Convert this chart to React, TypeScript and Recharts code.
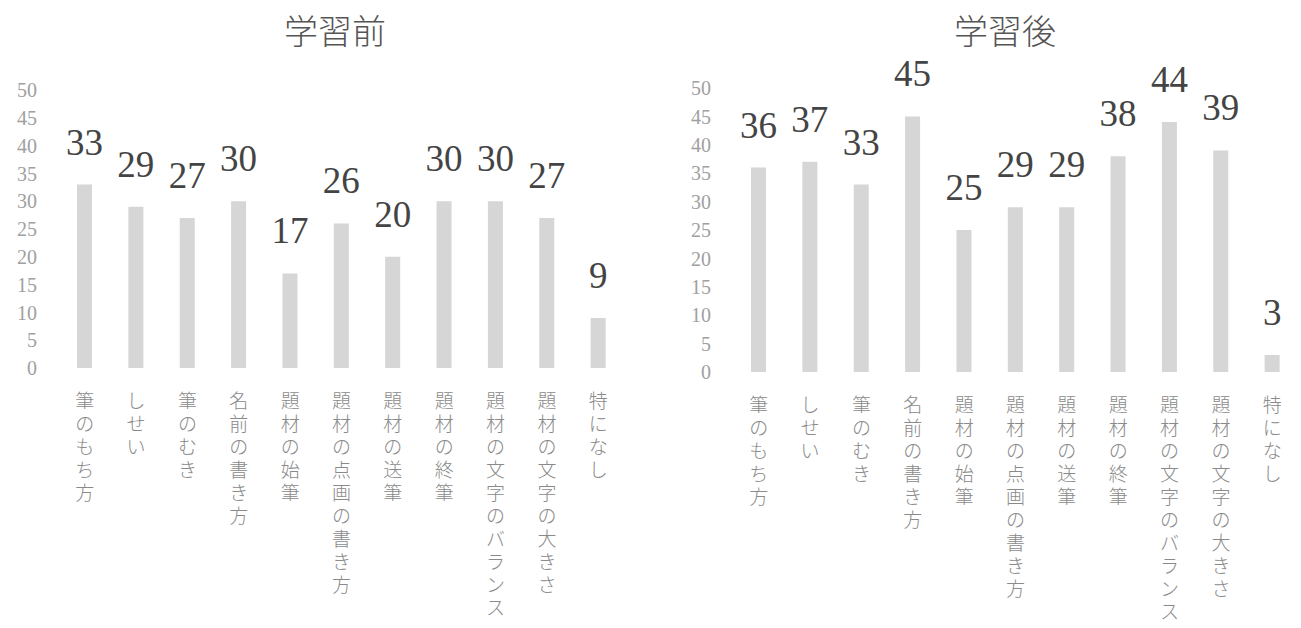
import { BarChart, Bar, XAxis, YAxis, LabelList } from 'recharts';

const categories = [
  '筆のもち方',
  'しせい',
  '筆のむき',
  '名前の書き方',
  '題材の始筆',
  '題材の点画の書き方',
  '題材の送筆',
  '題材の終筆',
  '題材の文字のバランス',
  '題材の文字の大きさ',
  '特になし',
];
const beforeValues = [33, 29, 27, 30, 17, 26, 20, 30, 30, 27, 9];
const afterValues = [36, 37, 33, 45, 25, 29, 29, 38, 44, 39, 3];
const yTicks = [0, 5, 10, 15, 20, 25, 30, 35, 40, 45, 50];
const titles = ['学習前', '学習後'];

const CJK = '"Noto Sans CJK JP", sans-serif';
const SERIF = '"Liberation Serif", "DejaVu Serif", serif';

// category labels are written top-to-bottom, one glyph per line
function VerticalTick(props: any) {
  const { x, y, payload } = props;
  const chars = Array.from(String(payload.value));
  return (
    <g>
      {chars.map((c, i) => (
        <text
          key={i}
          x={x}
          y={y + 40 + i * 23}
          textAnchor="middle"
          fontSize={19}
          fill="#8a8a8a"
          fontFamily={CJK}
          fontWeight={300}
        >
          {c}
        </text>
      ))}
    </g>
  );
}

interface PanelProps {
  title: string;
  values: number[];
  left: number;
  width: number;
  top: number;
  axisHeight: number;
  marginLeft: number;
  marginRight: number;
  titleX: number;
}

function Panel({ title, values, left, width, top, axisHeight, marginLeft, marginRight, titleX }: PanelProps) {
  const data = categories.map((name, i) => ({ name, value: values[i] }));
  return (
    <div style={{ position: 'absolute', left, top: 0, width, height: 628 }}>
      <div
        style={{
          position: 'absolute',
          left: titleX - 100,
          width: 200,
          top: 8,
          textAlign: 'center',
          fontFamily: CJK,
          fontWeight: 300,
          fontSize: 34,
          color: '#555',
          lineHeight: '44px',
        }}
      >
        {title}
      </div>
      <BarChart
        width={width}
        height={628}
        data={data}
        margin={{ top, right: marginRight, bottom: 0, left: marginLeft }}
        barCategoryGap={0}
      >
        <XAxis
          dataKey="name"
          axisLine={false}
          tickLine={false}
          tickSize={0}
          tickMargin={0}
          height={axisHeight}
          interval={0}
          tick={<VerticalTick />}
        />
        <YAxis
          domain={[0, 50]}
          ticks={yTicks}
          width={40}
          axisLine={false}
          tickLine={false}
          tickSize={0}
          tickMargin={22}
          interval={0}
          tick={{ fontSize: 20, fill: '#a0a0a0', fontFamily: SERIF }}
        />
        <Bar dataKey="value" fill="#d6d6d6" barSize={15} isAnimationActive={false}>
          <LabelList
            dataKey="value"
            position="top"
            offset={30}
            style={{ fontSize: 37, fill: '#444', fontFamily: SERIF }}
          />
        </Bar>
      </BarChart>
    </div>
  );
}

export default function App() {
  return (
    <div style={{ position: 'absolute', left: 0, top: 0, width: 1301, height: 628, background: '#fff' }}>
      <Panel
        title={titles[0]}
        values={beforeValues}
        left={0}
        width={650}
        top={90}
        axisHeight={260}
        marginLeft={19}
        marginRight={26}
        titleX={335}
      />
      <Panel
        title={titles[1]}
        values={afterValues}
        left={650}
        width={651}
        top={88}
        axisHeight={256}
        marginLeft={43}
        marginRight={3}
        titleX={355}
      />
    </div>
  );
}
